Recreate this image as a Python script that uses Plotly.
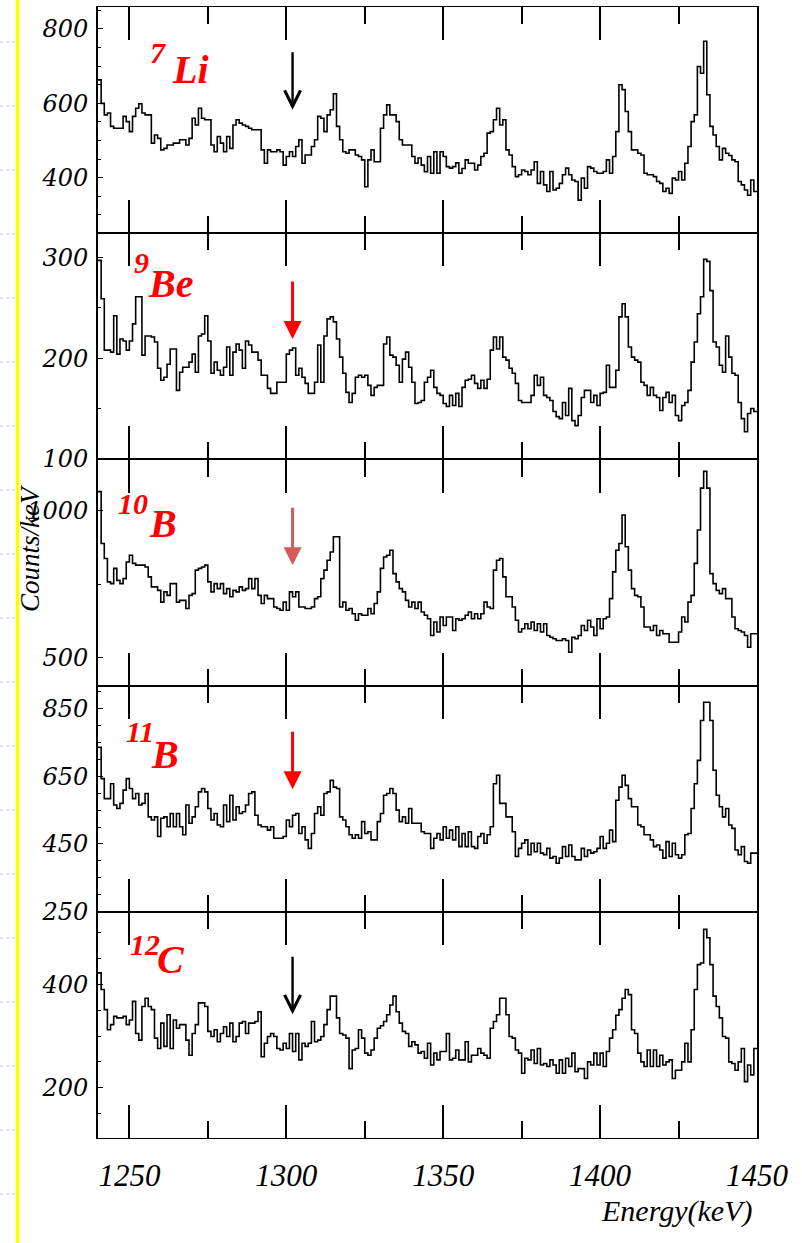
import plotly.graph_objects as go
from plotly.subplots import make_subplots

# ---------------- data (counts per 1 keV bin, 1240..1449 keV) ----------------
E_START = 1240
E_END = 1450
BIN_KEV = 1

li7 = [663,600,569,574,538,533,533,533,565,551,
       524,565,587,599,574,569,569,493,515,506,
       475,479,488,488,493,493,502,502,488,506,
       560,542,587,560,556,556,488,470,511,493,
       470,511,479,542,556,547,542,538,533,529,
       529,529,475,439,475,470,470,475,470,434,
       457,470,457,484,502,439,461,461,484,502,
       565,560,524,569,583,626,538,502,470,466,
       475,475,461,457,448,376,448,475,443,443,
       533,569,596,569,569,551,502,488,488,488,
       457,439,453,434,416,457,412,470,412,470,
       457,430,426,430,440,412,425,448,439,439,
       421,434,457,466,520,524,556,587,542,556,
       475,461,430,403,408,421,417,408,421,443,
       385,417,381,363,417,367,372,385,408,426,
       408,394,390,340,399,372,430,426,417,412,
       412,417,448,412,457,524,650,637,578,524,
       475,475,466,461,412,408,408,403,390,385,
       363,372,358,399,394,417,394,439,484,551,
       569,699,681,767,623,538,515,484,448,479,
       466,460,448,443,390,381,367,353,394,363]

be9 = [297,259,208,208,206,242,204,219,217,208,
       217,234,261,261,203,222,222,221,216,190,
       178,181,194,209,209,168,186,191,191,196,
       204,186,222,224,242,217,185,196,188,183,
       191,211,183,206,214,208,190,217,213,206,
       206,198,183,183,170,165,165,176,176,176,
       204,208,210,183,190,181,175,165,165,176,
       213,176,222,239,241,236,219,201,185,166,
       156,165,181,183,181,183,173,163,171,173,
       173,214,221,203,201,193,176,199,206,191,
       176,155,156,158,176,181,188,171,165,163,
       155,152,163,153,165,152,171,178,179,183,
       175,170,178,170,179,208,221,209,221,201,
       198,190,185,175,158,156,156,156,163,183,
       173,181,163,161,158,147,142,140,156,143,
       170,138,133,143,161,168,168,156,163,153,
       165,166,193,171,171,188,241,254,241,211,
       201,198,196,176,173,163,171,163,161,148,
       161,166,156,163,143,138,153,156,168,196,
       216,244,261,298,296,267,216,211,193,186,
       222,201,185,183,156,140,127,145,150,147]

b10 = [1066,889,838,758,752,804,763,752,769,826,
       849,821,815,815,815,809,775,741,741,729,
       689,724,712,752,752,689,695,695,667,712,
       718,798,804,809,815,758,724,752,735,752,
       718,735,707,729,724,741,729,735,769,735,
       769,712,684,712,701,701,672,667,661,689,
       661,724,707,724,672,672,667,667,672,701,
       707,769,798,832,860,912,912,672,689,661,
       667,649,627,649,644,644,667,649,684,724,
       804,843,849,866,786,758,735,724,695,672,
       689,667,689,655,644,632,575,621,587,638,
       609,638,638,592,632,627,632,644,655,632,
       649,632,649,689,672,667,798,832,838,775,
       707,707,672,627,587,598,615,598,621,592,
       615,587,615,575,569,564,558,558,564,558,
       518,569,564,575,609,592,627,604,575,632,
       598,632,638,701,792,866,889,986,878,798,
       735,712,707,672,604,604,592,609,575,592,
       581,581,552,552,552,587,638,621,689,712,
       821,935,1078,1135,1078,786,752,729,718,735,
       701,701,638,598,592,587,575,535,581,581]

b11 = [736,643,584,584,628,565,555,570,609,643,
       614,584,599,565,570,599,530,521,530,472,
       526,530,501,540,501,540,501,477,565,511,
       530,560,604,614,604,555,521,540,506,501,
       565,516,594,521,560,540,545,565,599,604,
       535,506,501,501,491,501,467,467,467,472,
       521,501,535,540,481,501,462,437,481,540,
       560,535,599,604,638,618,614,530,521,501,
       477,467,477,467,516,481,486,462,462,516,
       540,594,599,614,599,550,516,530,511,555,
       511,511,511,486,481,481,437,467,481,462,
       501,467,491,462,501,442,481,442,486,442,
       437,472,481,452,477,501,628,653,570,570,
       530,530,486,413,437,452,462,418,452,427,
       452,423,418,437,408,413,393,408,442,413,
       447,413,403,403,437,413,432,423,427,437,
       472,437,452,491,457,579,618,653,623,584,
       560,560,506,501,477,477,462,442,447,432,
       408,457,413,452,418,408,418,477,481,555,
       628,697,815,869,869,815,668,594,560,530,
       555,506,496,432,418,442,398,393,423,423]

c12 = [422,390,351,312,322,338,335,335,338,322,
       331,367,305,292,357,373,357,351,296,276,
       325,280,341,276,331,315,322,322,292,263,
       305,322,364,364,357,309,299,312,289,305,
       318,299,325,289,299,325,328,305,325,325,
       328,347,260,286,299,305,299,276,273,286,
       276,305,270,305,254,286,280,286,328,289,
       292,299,322,351,377,377,335,305,302,296,
       237,273,276,312,296,267,263,273,296,315,
       320,328,341,360,377,347,325,309,305,280,
       289,283,267,270,257,286,244,267,254,270,
       270,305,254,257,273,254,254,289,250,263,
       263,276,267,263,257,315,328,341,373,373,
       341,299,296,273,267,228,257,254,273,247,
       276,244,247,241,254,244,228,254,228,257,
       241,267,231,237,237,218,250,244,267,244,
       267,241,270,296,312,340,351,373,390,380,
       312,305,267,250,241,273,241,273,241,263,
       244,250,254,218,234,234,250,286,250,312,
       390,438,441,506,490,438,377,357,335,299,
       296,250,247,234,250,276,212,244,225,276]

spectra = [li7, be9, b10, b11, c12]
mass_numbers = ["7", "9", "10", "11", "12"]
symbols = ["Li", "Be", "B", "B", "C"]
y_ranges = [[251, 859], [99.5, 324], [404, 1176], [249.5, 918], [103, 540]]
y_tickvals = [[400, 600, 800], [100, 200, 300], [500, 1000], [250, 450, 650, 850], [200, 400]]
y_minor_dtick = [50, 50, 250, 50, 50]
x_tickvals = [1250, 1300, 1350, 1400, 1450]
marked_energy = 1302          # keV, position of the arrows
arrow_tip_counts = [583, 219, 815, 612, 342]
arrow_colors = ["black", "#ff0000", "#d45b5b", "#ff0000", "black"]

# ---------------- layout helpers ----------------
W, H = 802, 1243
ML, MR, MT, MB = 98, 45, 7, 105
PW = W - ML - MR
PH = H - MT - MB

SERIF = "Liberation Serif, Times New Roman, DejaVu Serif, serif"


def px_x(px):
    return (px - ML) / PW


def px_y(py):
    return (H - MB - py) / PH


n = len(spectra)
edges = [E_START + BIN_KEV * i for i in range(len(li7) + 1)]

fig = make_subplots(rows=n, cols=1, shared_xaxes=True, vertical_spacing=0)

for i, counts in enumerate(spectra):
    fig.add_trace(
        go.Scatter(x=edges, y=counts + [counts[-1]], mode="lines",
                   line=dict(shape="hv", color="black", width=1.6),
                   showlegend=False, hoverinfo="skip"),
        row=i + 1, col=1)

for i in range(n):
    r = i + 1
    fig.update_xaxes(
        row=r, col=1, range=[E_START, E_END], tickvals=x_tickvals,
        ticks="inside", ticklen=33, tickwidth=1.6, tickcolor="black",
        minor=dict(ticks="inside", ticklen=17, dtick=25, tickwidth=1.6, tickcolor="black"),
        showline=True, linecolor="black", linewidth=1.2, mirror="ticks",
        showgrid=False, zeroline=False,
        showticklabels=(r == n),
        tickfont=dict(family=SERIF, style="italic", size=31, color="black"),
        ticklabelstandoff=10,
    )
    fig.update_yaxes(
        row=r, col=1, range=y_ranges[i], tickvals=y_tickvals[i],
        ticks="inside", ticklen=5, tickwidth=1.4, tickcolor="black",
        minor=dict(ticks="inside", ticklen=3, dtick=y_minor_dtick[i], tickwidth=1.2,
                   tickcolor="black"),
        showline=True, linecolor="black", linewidth=2, mirror=True,
        showgrid=False, zeroline=False,
        tickfont=dict(family="DejaVu Serif, serif", style="italic", size=24, color="black"),
        ticklabelstandoff=3,
    )

annotations = []
# nucleus labels (mass number + symbol)
num_pos = [(158, 52), (141, 262), (133, 503), (140, 732), (145, 944)]
sym_pos = [(190, 69), (170, 283), (163, 524), (165, 754), (171, 959)]
for i in range(n):
    annotations.append(dict(
        x=px_x(num_pos[i][0]), y=px_y(num_pos[i][1]), xref="paper", yref="paper",
        text=mass_numbers[i], showarrow=False, xanchor="center", yanchor="middle",
        font=dict(family=SERIF, size=30, color="#ff0000", weight="bold",
                  style="italic")))
    annotations.append(dict(
        x=px_x(sym_pos[i][0]), y=px_y(sym_pos[i][1]), xref="paper", yref="paper",
        text=symbols[i], showarrow=False, xanchor="center", yanchor="middle",
        font=dict(family=SERIF, size=40, color="#ff0000", weight="bold",
                  style="italic")))

# arrows
for i in range(n):
    yref = "y" if i == 0 else f"y{i + 1}"
    black = arrow_colors[i] == "black"
    annotations.append(dict(
        x=marked_energy, y=arrow_tip_counts[i], xref="x", yref=yref,
        ax=0, ay=-59, text="", showarrow=True,
        arrowhead=5 if black else 2,
        arrowsize=1.3 if black else 1.2,
        arrowwidth=2.4 if black else 3,
        arrowcolor=arrow_colors[i]))

# axis titles
annotations.append(dict(
    x=px_x(30), y=px_y(548), xref="paper", yref="paper", text="Counts/keV",
    textangle=-90, showarrow=False, xanchor="center", yanchor="middle",
    font=dict(family=SERIF, style="italic", size=27, color="black")))
annotations.append(dict(
    x=px_x(676), y=px_y(1211), xref="paper", yref="paper", text="Energy(keV)",
    showarrow=False, xanchor="center", yanchor="middle",
    font=dict(family=SERIF, style="italic", size=30, color="black")))

shapes = []
# yellow slide margin line
shapes.append(dict(type="line", xref="paper", yref="paper",
                   x0=px_x(17.5), x1=px_x(17.5), y0=px_y(0), y1=px_y(H),
                   line=dict(color="#ffff00", width=3.5)))
# faint dashed guide marks at far left
for py in range(42, H, 64):
    shapes.append(dict(type="line", xref="paper", yref="paper",
                       x0=px_x(0), x1=px_x(15), y0=px_y(py), y1=px_y(py),
                       line=dict(color="#b8c0e8", width=1, dash="dot")))

fig.update_layout(
    width=W, height=H, margin=dict(l=ML, r=MR, t=MT, b=MB),
    paper_bgcolor="white", plot_bgcolor="white",
    annotations=annotations, shapes=shapes, showlegend=False,
)

fig.write_html("out.html")
